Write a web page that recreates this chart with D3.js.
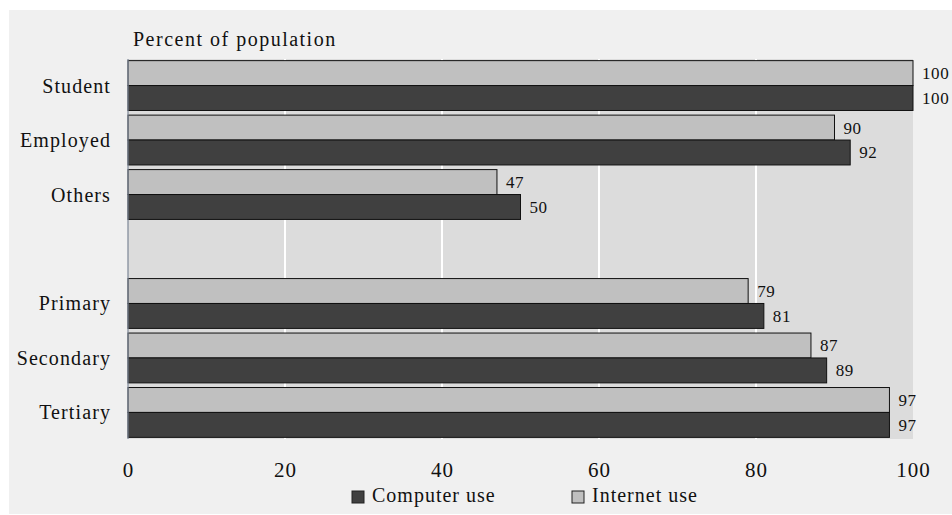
<!DOCTYPE html>
<html>
<head>
<meta charset="utf-8">
<script src="https://cdn.jsdelivr.net/npm/d3@7"></script>
<style>
  html, body { margin: 0; padding: 0; background: #ffffff; }
  svg { display: block; font-family: "Liberation Serif", "Times New Roman", serif; }
</style>
</head>
<body>
<svg id="chart" width="952" height="515"></svg>
<script>
// Categories top to bottom; the empty string leaves a gap between the two groups.
const categories = ["Student", "Employed", "Others", "", "Primary", "Secondary", "Tertiary"];
const internetUse = [100, 90, 47, null, 79, 87, 97];
const computerUse = [100, 92, 50, null, 81, 89, 97];
const xTicks = [0, 20, 40, 60, 80, 100];
const seriesNames = ["Computer use", "Internet use"];
const seriesColors = ["#404040", "#c0c0c0"];

const svg = d3.select("#chart");
const W = 952;
const plot = { left: 128, right: 913, top: 59, bottom: 439 };

// outer panel
svg.append("rect").attr("x", 9).attr("y", 10).attr("width", W - 9).attr("height", 504)
  .attr("fill", "#f0f0f0");

// plot background
svg.append("rect")
  .attr("x", plot.left).attr("y", plot.top)
  .attr("width", plot.right - plot.left).attr("height", plot.bottom - plot.top)
  .attr("fill", "#dcdcdc");

const x = d3.scaleLinear().domain([0, 100]).range([plot.left, plot.right]);
const y = d3.scaleBand().domain(categories.map((c, i) => i))
  .range([plot.top, plot.bottom]).paddingInner(0.085).paddingOuter(0.03);
const sub = d3.scaleBand().domain([0, 1]).range([0, y.bandwidth()]);

// vertical gridlines
svg.append("g").selectAll("line")
  .data(xTicks.filter(t => t > 0 && t < 100))
  .join("line")
  .attr("x1", d => x(d)).attr("x2", d => x(d))
  .attr("y1", plot.top).attr("y2", plot.bottom)
  .attr("stroke", "#ffffff").attr("stroke-width", 2);

// bars: internet on top, computer below
const rows = categories.map((c, i) => ({ i, c, internet: internetUse[i], computer: computerUse[i] }))
  .filter(d => d.internet !== null);

const bars = svg.append("g");
rows.forEach(d => {
  const pairs = [[d.internet, seriesColors[1], 0], [d.computer, seriesColors[0], 1]];
  pairs.forEach(([v, col, j]) => {
    const y0 = y(d.i) + sub(j);
    bars.append("rect")
      .attr("x", x(0)).attr("y", y0)
      .attr("width", x(v) - x(0)).attr("height", sub.bandwidth())
      .attr("fill", col).attr("stroke", "#111").attr("stroke-width", 1);
    bars.append("text")
      .attr("x", x(v) + 9).attr("y", y0 + sub.bandwidth() / 2)
      .attr("dy", "0.35em")
      .attr("font-size", 17).attr("letter-spacing", 0.6).attr("fill", "#111")
      .text(v);
  });
});

// left axis line
svg.append("line")
  .attr("x1", plot.left).attr("x2", plot.left)
  .attr("y1", plot.top).attr("y2", plot.bottom)
  .attr("stroke", "#7c8696").attr("stroke-width", 1.2);

// category labels
svg.append("g").selectAll("text")
  .data(rows)
  .join("text")
  .attr("x", 111).attr("y", d => y(d.i) + y.bandwidth() / 2)
  .attr("dy", "0.35em").attr("text-anchor", "end")
  .attr("font-size", 20).attr("letter-spacing", 1.1).attr("fill", "#111")
  .text(d => d.c);

// x axis tick labels
const xAxis = d3.axisBottom(x).tickValues(xTicks).tickSize(0).tickPadding(0).tickFormat(d3.format("d"));
const gx = svg.append("g").attr("transform", `translate(0,${plot.bottom})`).call(xAxis);
gx.select(".domain").remove();
gx.selectAll("text")
  .attr("y", 38).attr("dy", 0)
  .attr("font-family", "Liberation Serif, serif")
  .attr("font-size", 21).attr("letter-spacing", 1).attr("fill", "#111");

// axis title
svg.append("text")
  .attr("x", 133).attr("y", 46)
  .attr("font-size", 20).attr("letter-spacing", 1.5).attr("fill", "#111")
  .text("Percent of population");

// legend
const legendX = [352, 572];
seriesNames.forEach((name, i) => {
  svg.append("rect")
    .attr("x", legendX[i]).attr("y", 491).attr("width", 12).attr("height", 12)
    .attr("fill", seriesColors[i]).attr("stroke", "#222").attr("stroke-width", 1);
  svg.append("text")
    .attr("x", legendX[i] + 20).attr("y", 502)
    .attr("font-size", 20).attr("letter-spacing", 1).attr("fill", "#111")
    .text(name);
});
</script>
</body>
</html>
